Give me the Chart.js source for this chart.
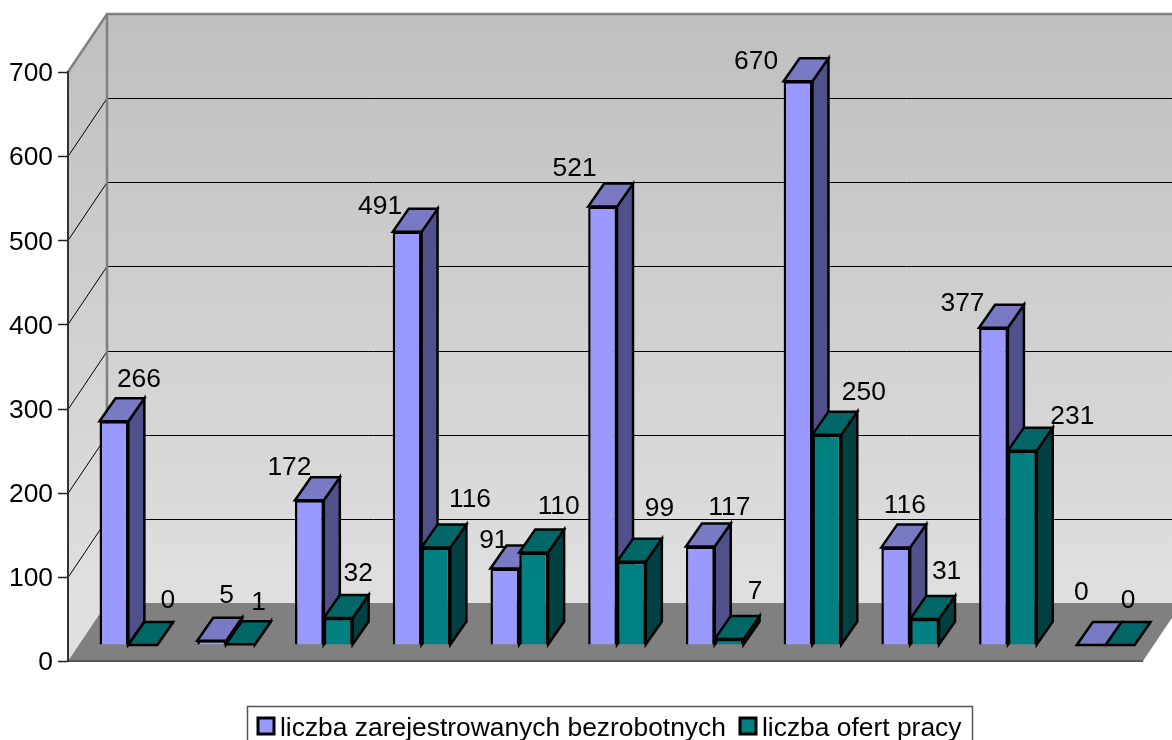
<!DOCTYPE html>
<html>
<head>
<meta charset="utf-8">
<script src="https://cdn.jsdelivr.net/npm/chart.js@4"></script>
<style>
    html, body { margin: 0; padding: 0; background: #fff; overflow: hidden; }
    canvas { display: block; }
</style>
</head>
<body>
<canvas id="chart" width="1172" height="740"></canvas>
<script>
const categories = ['1', '2', '3', '4', '5', '6', '7', '8', '9', '10', '11'];
const unemployed = [266, 5, 172, 491, 91, 521, 117, 670, 116, 377, 0];
const jobOffers = [0, 1, 32, 116, 110, 99, 7, 250, 31, 231, 0];
const seriesNames = ['liczba zarejestrowanych bezrobotnych', 'liczba ofert pracy'];
const yTicks = [0, 100, 200, 300, 400, 500, 600, 700];

// where each value label sits relative to the top centre of its bar
const unemployedLabelOffsets = [[25, -43], [15, -47], [-20, -35], [-27, -27], [-11, -30], [-28, -40], [29, -41], [-42, -22], [9, -44], [-31, -26], [-10, -54]];
const jobOffersLabelOffsets = [[25, -46], [18, -43], [20, -46], [34, -50], [25, -48], [28, -55], [26, -49], [37, -44], [22, -49], [50, -36], [8, -46]];

const FONT_FAMILY = '"Liberation Sans", Arial, sans-serif';
const FONT = '26.4px ' + FONT_FAMILY;
const WALL_DX = 39, WALL_DY = -58;     // front corner to back corner
const BAR_DX = 16, BAR_DY = -23;       // depth of a bar
const SHIFT_X = 11.5, SHIFT_Y = -16;   // bars stand inside the floor
const faces = [
    { top: '#7a7ac4', side: '#50508a' },
    { top: '#006666', side: '#004040' }
];

function poly(ctx, pts, fill, stroke, lw) {
    ctx.beginPath();
    pts.forEach((p, i) => i ? ctx.lineTo(p[0], p[1]) : ctx.moveTo(p[0], p[1]));
    ctx.closePath();
    if (fill) { ctx.fillStyle = fill; ctx.fill(); }
    if (stroke) { ctx.strokeStyle = stroke; ctx.lineWidth = lw; ctx.lineJoin = 'miter'; ctx.stroke(); }
}

const box3d = {
    id: 'box3d',
    beforeDraw(chart) {
        const { ctx, chartArea: a, scales: { y } } = chart;
        const bx = a.left + WALL_DX;
        const br = chart.width + 20;
        const top = y.getPixelForValue(700), bottom = y.getPixelForValue(0);

        const grad = ctx.createLinearGradient(0, top + WALL_DY, 0, bottom + WALL_DY);
        grad.addColorStop(0, '#bfbfbf');
        grad.addColorStop(1, '#e0e0e0');

        ctx.save();
        poly(ctx, [[bx, top + WALL_DY], [br, top + WALL_DY], [br, bottom + WALL_DY], [bx, bottom + WALL_DY]], grad);
        poly(ctx, [[a.left, top], [bx, top + WALL_DY], [bx, bottom + WALL_DY], [a.left, bottom]], grad);
        poly(ctx, [[a.left, bottom], [a.right, bottom], [a.right + WALL_DX, bottom + WALL_DY], [bx, bottom + WALL_DY]], '#808080');

        // gridlines run along the left wall and the back wall
        ctx.strokeStyle = '#000';
        ctx.lineWidth = 1;
        yTicks.slice(1, -1).forEach(v => {
            const py = Math.round(y.getPixelForValue(v)) + 0.5;
            ctx.beginPath();
            ctx.moveTo(a.left, py);
            ctx.lineTo(bx, py + WALL_DY);
            ctx.lineTo(br, py + WALL_DY);
            ctx.stroke();
        });

        ctx.strokeStyle = '#808080';
        ctx.lineWidth = 2.5;
        ctx.beginPath();
        ctx.moveTo(a.left, top);
        ctx.lineTo(bx, top + WALL_DY);
        ctx.lineTo(br, top + WALL_DY);
        ctx.moveTo(bx, top + WALL_DY);
        ctx.lineTo(bx, bottom + WALL_DY);
        ctx.stroke();

        // floor front edge
        ctx.strokeStyle = '#555';
        ctx.lineWidth = 2;
        ctx.beginPath();
        ctx.moveTo(a.left, bottom);
        ctx.lineTo(a.right, bottom);
        ctx.stroke();
        ctx.restore();
    },
    // the right series has to land on top of the left one, the opposite of Chart.js's own order
    beforeDatasetsDraw(chart) {
        const { ctx } = chart;
        [0, 1].forEach(i => {
            const meta = chart.getDatasetMeta(i);
            ctx.save();
            ctx.translate(SHIFT_X, SHIFT_Y);
            meta.controller.draw();
            meta.data.forEach(bar => {
                const { x, y, base, width } = bar.getProps(['x', 'y', 'base', 'width'], true);
                const l = x - width / 2, r = x + width / 2;
                poly(ctx, [[r, y], [r + BAR_DX, y + BAR_DY], [r + BAR_DX, base + BAR_DY], [r, base]], faces[i].side, '#000', 2.5);
                poly(ctx, [[l, y], [l + BAR_DX, y + BAR_DY], [r + BAR_DX, y + BAR_DY], [r, y]], faces[i].top, '#000', 2.5);
            });
            ctx.restore();
        });
        return false;
    },
    afterDraw(chart) {
        const { ctx, chartArea: a, scales: { y: yScale } } = chart;
        ctx.save();

        // tick marks left of the axis
        ctx.strokeStyle = '#222';
        ctx.lineWidth = 1.5;
        yTicks.forEach(v => {
            const py = Math.round(yScale.getPixelForValue(v)) + 0.5;
            ctx.beginPath();
            ctx.moveTo(a.left - 10, py);
            ctx.lineTo(a.left, py);
            ctx.stroke();
        });

        ctx.font = FONT;
        ctx.fillStyle = '#000';
        ctx.textAlign = 'center';
        ctx.textBaseline = 'middle';
        [unemployedLabelOffsets, jobOffersLabelOffsets].forEach((offsets, i) => {
            const values = chart.data.datasets[i].data;
            chart.getDatasetMeta(i).data.forEach((bar, j) => {
                const { x, y } = bar.getProps(['x', 'y'], true);
                ctx.fillText(values[j], x + SHIFT_X + offsets[j][0], y + SHIFT_Y + offsets[j][1] + 2);
            });
        });

        // legend box runs off the bottom of the picture
        ctx.strokeStyle = '#555';
        ctx.lineWidth = 1.5;
        ctx.strokeRect(247.5, 706.5, 725, 40);
        ctx.textAlign = 'left';
        const swatches = [258, 740];
        seriesNames.forEach((name, i) => {
            ctx.fillStyle = chart.data.datasets[i].backgroundColor;
            ctx.strokeStyle = '#000';
            ctx.lineWidth = 3;
            ctx.fillRect(swatches[i], 718, 16, 16);
            ctx.strokeRect(swatches[i], 718, 16, 16);
            ctx.fillStyle = '#000';
            ctx.fillText(name, swatches[i] + 22, 729);
        });
        ctx.restore();
    }
};

new Chart(document.getElementById('chart'), {
    type: 'bar',
    data: {
        labels: categories,
        datasets: [
            { label: seriesNames[0], data: unemployed, backgroundColor: '#9999ff', borderColor: '#000', borderWidth: 2.5 },
            { label: seriesNames[1], data: jobOffers, backgroundColor: '#008080', borderColor: '#000', borderWidth: 2.5 }
        ]
    },
    options: {
        responsive: false,
        animation: false,
        layout: { padding: { top: 72, right: 29, bottom: 79, left: 0 } },
        categoryPercentage: 0.59,
        barPercentage: 1,
        plugins: {
            legend: { display: false },
            tooltip: { enabled: false }
        },
        scales: {
            x: { display: false, grid: { display: false } },
            y: {
                min: 0,
                max: 700,
                afterFit(scale) { scale.width = 68; },
                ticks: {
                    stepSize: 100,
                    color: '#000',
                    font: { family: FONT_FAMILY, size: 26.4 },
                    padding: 15,
                    labelOffset: 2
                },
                grid: { drawOnChartArea: false, drawTicks: false },
                border: { color: '#333', width: 2 }
            }
        }
    },
    plugins: [box3d]
});
</script>
</body>
</html>
